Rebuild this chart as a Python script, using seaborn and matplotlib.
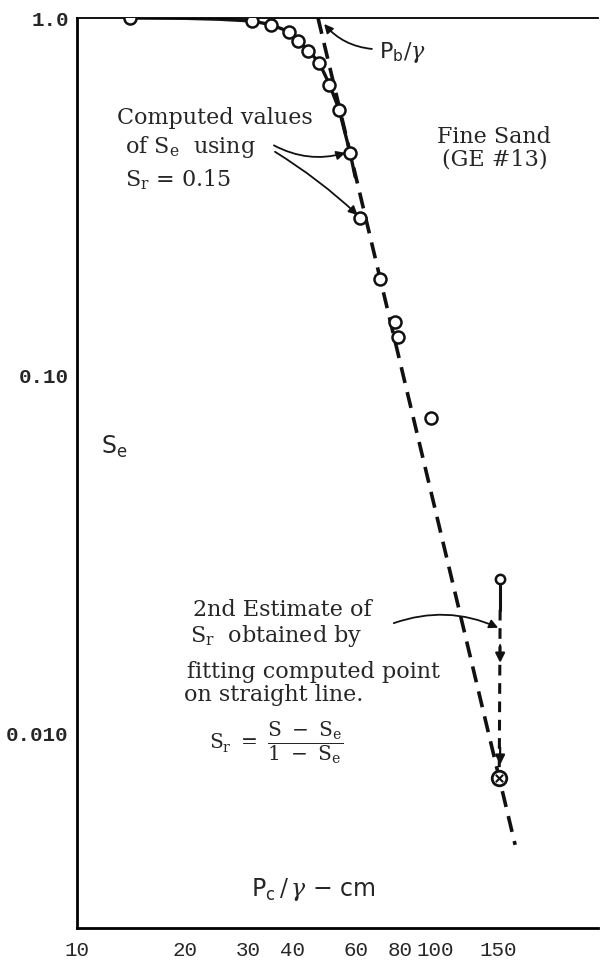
import matplotlib
matplotlib.use("Agg")
import matplotlib.pyplot as plt
import matplotlib.ticker as mticker
import pandas as pd
import seaborn as sns

# ── Values ──────────────────────────────────────────────────────────────────
# measured points (open circles)
pc_obs = [14.1, 30.8, 34.8, 39.1, 41.4, 44.2, 47.4, 50.6, 53.9, 57.9,
          61.7, 70.2, 77.3, 78.8, 97.4]
se_obs = [1.0, 0.981, 0.956, 0.914, 0.863, 0.809, 0.749, 0.650, 0.553, 0.420,
          0.276, 0.187, 0.1415, 0.1285, 0.0763]

# hand-drawn smooth curve through the upper points
curve_pc = [14.1, 20, 25, 30.8, 34.8, 39.1, 41.4, 44.2, 47.4, 50.6, 53.9, 57.9, 59.8]
curve_se = [1.0, 0.998, 0.992, 0.981, 0.958, 0.916, 0.866, 0.812, 0.752, 0.655,
            0.556, 0.420, 0.360]

# fitted straight line (dashed), starts at Pb/gamma on Se = 1
line_pc = [47.1, 167.3]
line_se = [1.0, 0.0049]

# 1st computed point and 2nd estimate (crossed circle)
first_pc, first_se = 151.9, 0.0271
second_pc, second_se = 151.0, 0.00754
arrow_se = [0.0158, 0.0082]   # arrowheads on the vertical dashed drop

x_ticks = [10, 20, 30, 40, 60, 80, 100, 150]
x_labels = ["10", "20", "30", "40", "60", "80", "100", "150"]
y_ticks = [1.0, 0.1, 0.01]
y_labels = ["1.0", "0.10", "0.010"]

# ── Style ───────────────────────────────────────────────────────────────────
sns.set_style("white")
plt.rcParams.update({
    "font.family": ["DejaVu Serif"],
    "mathtext.fontset": "dejavuserif",
    "axes.edgecolor": "black",
})

INK = "#111111"
SERIF = "DejaVu Serif"
MONO = "Liberation Mono"
TXT = 16      # annotation text size

fig = plt.figure(figsize=(6.08, 9.64), dpi=100)
ax = fig.add_axes([77 / 608, 1 - 928 / 964, 521 / 608, 910 / 964])
ax.set_xscale("log")
ax.set_yscale("log")
ax.set_xlim(10, 285)
ax.set_ylim(0.00287, 1.0)

obs = pd.DataFrame({"pc": pc_obs, "se": se_obs})
curve = pd.DataFrame({"pc": curve_pc, "se": curve_se})

# solid curve + dashed straight line
sns.lineplot(data=curve, x="pc", y="se", ax=ax, color=INK, lw=2.4, zorder=2)
ax.plot(line_pc, line_se, color=INK, lw=2.6, dashes=(4.5, 2.6), zorder=2)

# vertical drop from 1st computed point to 2nd estimate
ax.plot([first_pc, first_pc], [first_se, first_se * 0.82], color=INK, lw=2.2, zorder=2)
ax.plot([first_pc, second_pc], [first_se * 0.82, second_se], color=INK, lw=2.2,
        dashes=(3.5, 2.5), zorder=2)
for a in arrow_se:
    ax.annotate("", xy=(first_pc, a), xytext=(first_pc, a * 1.12),
                arrowprops=dict(arrowstyle="-|>", color=INK, lw=1.6,
                                mutation_scale=14, shrinkA=0, shrinkB=0))

sns.scatterplot(data=obs, x="pc", y="se", ax=ax, s=75, marker="o",
                facecolor="white", edgecolor=INK, linewidth=1.8, zorder=4)
ax.scatter([first_pc], [first_se], s=45, facecolor="white", edgecolor=INK,
           linewidth=1.8, zorder=4)
ax.scatter([second_pc], [second_se], s=110, facecolor="white", edgecolor=INK,
           linewidth=2.0, zorder=4)
ax.scatter([second_pc], [second_se], s=28, marker="x", color=INK,
           linewidth=1.5, zorder=5)

# ── Axes cosmetics ──────────────────────────────────────────────────────────
ax.spines["right"].set_visible(False)
ax.spines["top"].set_linewidth(1.3)
ax.spines["left"].set_linewidth(2.0)
ax.spines["bottom"].set_linewidth(2.0)

ax.set_xticks(x_ticks)
ax.set_xticklabels(x_labels)
ax.set_yticks(y_ticks)
ax.set_yticklabels(y_labels)
ax.xaxis.set_minor_locator(mticker.NullLocator())
ax.yaxis.set_minor_locator(mticker.NullLocator())
ax.tick_params(axis="both", direction="in", length=7, width=1.8, color=INK,
               top=False, right=False)
ax.tick_params(axis="x", pad=9)
ax.tick_params(axis="y", pad=6)
for lab in ax.get_xticklabels():
    lab.set_fontfamily(MONO)
    lab.set_fontsize(15)
for lab in ax.get_yticklabels():
    lab.set_fontfamily(MONO)
    lab.set_fontsize(15)
    lab.set_fontweight("bold")
ax.set_xlabel("")
ax.set_ylabel("")

# ── Labels & annotations ────────────────────────────────────────────────────
ax.text(0.071, 0.529, r"$\mathsf{S_e}$", transform=ax.transAxes, fontsize=17,
        ha="center", va="center")
ax.text(0.334, 0.042, r"$\mathsf{P_c}\,/\,\gamma\ \mathsf{-\ cm}$",
        transform=ax.transAxes, fontsize=17, ha="left", va="center")

ax.text(0.579, 0.962, r"$\mathsf{P_b}/\gamma$", transform=ax.transAxes,
        fontsize=16, ha="left", va="center")
ax.annotate("", xy=(49.0, 0.962), xytext=(0.566, 0.966),
            textcoords="axes fraction",
            arrowprops=dict(arrowstyle="-|>", color=INK, lw=1.3, mutation_scale=13,
                            shrinkA=0, shrinkB=0, connectionstyle="arc3,rad=-0.2"))

ax.text(0.077, 0.890, "Computed values", transform=ax.transAxes,
        fontsize=TXT, family=SERIF, ha="left", va="center")
ax.text(0.093, 0.858, r"of $\mathrm{S_e}$  using", transform=ax.transAxes,
        fontsize=TXT, family=SERIF, ha="left", va="center")
ax.text(0.093, 0.822, r"$\mathrm{S_r}$ = 0.15", transform=ax.transAxes,
        fontsize=TXT, family=SERIF, ha="left", va="center")
ax.annotate("", xy=(pc_obs[9] * 0.97, se_obs[9]), xytext=(0.378, 0.860),
            textcoords="axes fraction",
            arrowprops=dict(arrowstyle="-|>", color=INK, lw=1.3, mutation_scale=13,
                            shrinkA=0, shrinkB=0, connectionstyle="arc3,rad=0.2"))
ax.annotate("", xy=(pc_obs[10] * 0.985, se_obs[10] * 1.02), xytext=(0.380, 0.853),
            textcoords="axes fraction",
            arrowprops=dict(arrowstyle="-|>", color=INK, lw=1.3, mutation_scale=13,
                            shrinkA=0, shrinkB=0, connectionstyle="arc3,rad=-0.05"))

ax.text(0.801, 0.869, "Fine Sand", transform=ax.transAxes, fontsize=TXT,
        family=SERIF, ha="center", va="center")
ax.text(0.801, 0.844, "(GE #13)", transform=ax.transAxes, fontsize=TXT,
        family=SERIF, ha="center", va="center")

ax.text(0.222, 0.349, "2nd Estimate of", transform=ax.transAxes, fontsize=TXT,
        family=SERIF, ha="left", va="center")
ax.text(0.216, 0.321, r"$\mathrm{S_r}$  obtained by", transform=ax.transAxes,
        fontsize=TXT, family=SERIF, ha="left", va="center")
ax.text(0.212, 0.281, "fitting computed point", transform=ax.transAxes,
        fontsize=TXT, family=SERIF, ha="left", va="center")
ax.text(0.206, 0.256, "on straight line.", transform=ax.transAxes,
        fontsize=TXT, family=SERIF, ha="left", va="center")
ax.text(0.253, 0.204, r"$\mathrm{S_r\ =\ \dfrac{S\ -\ S_e}{1\ -\ S_e}}$",
        transform=ax.transAxes, fontsize=14.5, ha="left", va="center")
ax.annotate("", xy=(150.0, 0.0198), xytext=(0.608, 0.335),
            textcoords="axes fraction",
            arrowprops=dict(arrowstyle="-|>", color=INK, lw=1.3, mutation_scale=13,
                            shrinkA=0, shrinkB=0, connectionstyle="arc3,rad=-0.2"))

fig.savefig("out.png", dpi=100, facecolor="white")
